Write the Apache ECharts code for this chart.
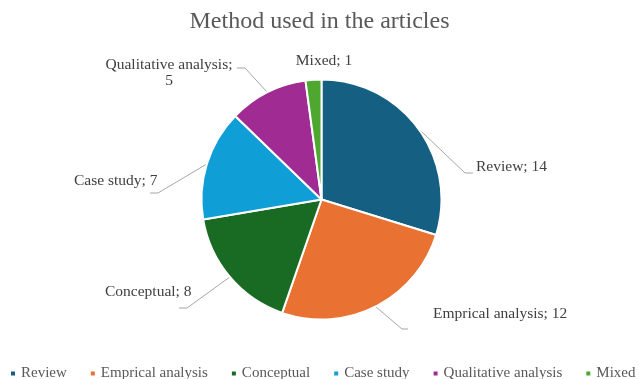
<!DOCTYPE html>
<html>
<head>
<meta charset="utf-8">
<script src="https://cdn.jsdelivr.net/npm/echarts@6/dist/echarts.min.js"></script>
<style>html,body{margin:0;padding:0;background:#fff;}#c{width:639px;height:379px;}</style>
</head>
<body>
<div id="c"></div>
<script>
const categories = ["Review", "Emprical analysis", "Conceptual", "Case study", "Qualitative analysis", "Mixed"];
const values = [14, 12, 8, 7, 5, 1];
const colors = ["#156082", "#E97132", "#196B24", "#0F9ED5", "#A02B93", "#4EA72E"];

// label placement (text anchor x, y, alignment, leader elbow, leader end)
const labelSpots = [
  {x: 476, y: 167, align: 'left',   elbow: [465, 173], end: [473, 173]},
  {x: 433, y: 314, align: 'left',   elbow: [402, 329], end: [408, 329]},
  {x: 105, y: 292, align: 'left',   elbow: [187, 308], end: [179, 308]},
  {x: 74,  y: 181, align: 'left',   elbow: [158, 193], end: [150, 193]},
  {x: 169, y: 73,  align: 'center', elbow: [245, 68],  end: [237, 68]},
  {x: 324, y: 61,  align: 'center', elbow: null,       end: null}
];

const chart = echarts.init(document.getElementById('c'), null, {renderer: 'canvas'});
const FONT = '"Liberation Serif", "Times New Roman", serif';
chart.setOption({
  animation: false,
  color: colors,
  title: {
    text: 'Method used in the articles',
    left: 'center',
    top: 5,
    textStyle: {fontFamily: FONT, fontSize: 24, fontWeight: 'normal', color: '#595959'}
  },
  legend: {
    bottom: -7,
    left: 4,
    width: 700,
    icon: 'rect',
    itemWidth: 6,
    itemHeight: 6,
    itemGap: 22,
    textStyle: {fontFamily: FONT, fontSize: 15, color: '#595959'},
    data: categories
  },
  series: [{
    type: 'pie',
    center: [321.5, 199.5],
    radius: 120,
    startAngle: 90,
    clockwise: true,
    itemStyle: {borderColor: '#fff', borderWidth: 2},
    label: {
      formatter: p => p.name === 'Qualitative analysis' ? p.name + ';\n' + p.value : p.name + '; ' + p.value,
      fontFamily: FONT, fontSize: 15.5, lineHeight: 16, color: '#404040'
    },
    labelLine: {length: 25, length2: 10, lineStyle: {color: '#A6A6A6', width: 1}},
    labelLayout: function (params) {
      const s = labelSpots[params.dataIndex];
      const p0 = params.labelLinePoints ? params.labelLinePoints[0] : [0, 0];
      const pts = s.elbow ? [p0, s.elbow, s.end] : [p0, p0];
      return {x: s.x, y: s.y, align: s.align, verticalAlign: 'middle', labelLinePoints: pts};
    },
    data: categories.map((c, i) => ({name: c, value: values[i]}))
  }]
});
</script>
</body>
</html>
